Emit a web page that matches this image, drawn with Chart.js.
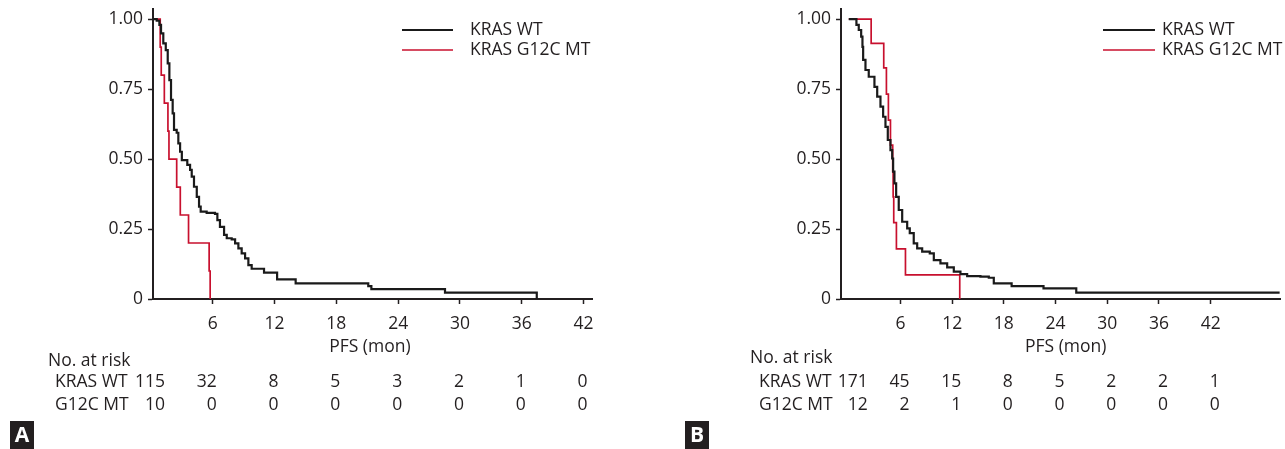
<!DOCTYPE html>
<html><head><meta charset="utf-8">
<script src="https://cdn.jsdelivr.net/npm/chart.js@4.4.1/dist/chart.umd.min.js"></script>
<style>
html,body{margin:0;padding:0;background:#fff;}
#wrap{position:relative;width:1285px;height:449px;overflow:hidden;background:#fff;}
canvas{position:absolute;top:0;}
#cA{left:0;} #cB{left:680px;}
</style></head><body>
<div id="wrap"><canvas id="cA" width="640" height="449"></canvas><canvas id="cB" width="605" height="449"></canvas></div>
<script>
// ---------- data ----------
const seriesNames = ['KRAS WT', 'KRAS G12C MT'];
const xTickValues = [6, 12, 18, 24, 30, 36, 42];
const yTickValues = [0, 0.25, 0.5, 0.75, 1];
const yTickLabels = ['0', '0.25', '0.50', '0.75', '1.00'];
const xAxisTitle = 'PFS (mon)';
const riskHeader = 'No. at risk';
const riskRowNames = ['KRAS WT', 'G12C MT'];
const riskTimes = [0, 6, 12, 18, 24, 30, 36, 42];
const riskA_WT = [115, 32, 8, 5, 3, 2, 1, 0];
const riskA_MT = [10, 0, 0, 0, 0, 0, 0, 0];
const riskB_WT = [171, 45, 15, 8, 5, 2, 2, 1];
const riskB_MT = [12, 2, 1, 0, 0, 0, 0, 0];

// Panel A Kaplan-Meier curves (time in months, survival probability)
const kmA_WT_t = [0, 0.56, 0.82, 0.98, 1.2, 1.44, 1.63, 1.79, 1.95, 2.11, 2.24, 2.5, 2.66, 2.83, 3.0, 3.53, 3.8, 3.96, 4.18, 4.45, 4.67, 4.83, 5.41, 6.22, 6.45, 6.7, 7.1, 7.36, 7.84, 8.17, 8.49, 8.81, 9.14, 9.46, 9.78, 10.98, 12.25, 14.05, 21.1, 21.4, 28.55, 37.46];
const kmA_WT_s = [1, 0.994, 0.979, 0.949, 0.913, 0.889, 0.842, 0.782, 0.711, 0.663, 0.604, 0.594, 0.556, 0.526, 0.496, 0.479, 0.461, 0.437, 0.401, 0.365, 0.33, 0.312, 0.308, 0.304, 0.282, 0.258, 0.229, 0.217, 0.213, 0.199, 0.181, 0.163, 0.145, 0.121, 0.108, 0.094, 0.07, 0.056, 0.046, 0.035, 0.023, 0];
const kmA_MT_t = [0, 0.9, 1.0, 1.3, 1.65, 1.75, 2.5, 2.85, 3.65, 5.65, 5.75];
const kmA_MT_s = [1, 0.9, 0.8, 0.7, 0.6, 0.5, 0.4, 0.3, 0.2, 0.1, 0];

// Panel B Kaplan-Meier curves
const kmB_WT_t = [0, 0.66, 0.89, 1.16, 1.44, 1.59, 1.67, 1.94, 2.32, 2.98, 3.3, 3.68, 3.99, 4.26, 4.53, 4.84, 5.04, 5.15, 5.3, 5.5, 5.8, 6.2, 6.78, 7.08, 7.54, 7.94, 8.52, 9.4, 9.87, 10.64, 11.42, 12.19, 12.96, 13.74, 15.28, 16.25, 16.83, 18.9, 22.6, 26.4, 50];
const kmB_WT_s = [1, 1, 0.979, 0.961, 0.937, 0.901, 0.854, 0.818, 0.794, 0.758, 0.723, 0.687, 0.651, 0.615, 0.568, 0.532, 0.502, 0.455, 0.413, 0.365, 0.318, 0.276, 0.252, 0.235, 0.199, 0.181, 0.169, 0.163, 0.139, 0.127, 0.113, 0.098, 0.089, 0.082, 0.08, 0.076, 0.056, 0.046, 0.038, 0.023, 0.023];
const kmB_MT_t = [0, 2.6, 4.06, 4.37, 4.6, 4.84, 5.1, 5.15, 5.22, 5.53, 6.58, 12.88];
const kmB_MT_s = [1, 0.913, 0.826, 0.732, 0.639, 0.55, 0.455, 0.365, 0.273, 0.179, 0.086, 0];

// ---------- styles ----------
const FONT_FAMILY = '"Open Sans", "Noto Sans", sans-serif';
const FONT_SIZE = 17.5;
const TEXT = '#231f20';
const AXIS = '#231f20';
const BLACK = '#1a1a1a';
const RED = '#c8102e';

function pts(t, s) { return t.map((v, i) => ({ x: v, y: s[i] })); }

function panelPlugin(cfg) {
  return {
    id: 'panel' + cfg.letter,
    afterDraw(chart) {
      const ctx = chart.ctx, xs = chart.scales.x, ca = chart.chartArea;
      ctx.save();
      ctx.font = FONT_SIZE + 'px ' + FONT_FAMILY;
      ctx.fillStyle = TEXT;
      ctx.textBaseline = 'middle';
      // axis title
      ctx.textAlign = 'center';
      ctx.fillText(xAxisTitle, (ca.left + ca.right) / 2 + cfg.titleDx, cfg.titleY);
      // legend
      chart.data.datasets.forEach((ds, i) => {
        const y = cfg.legY[i];
        ctx.strokeStyle = ds.borderColor;
        ctx.lineWidth = ds.borderWidth;
        ctx.beginPath(); ctx.moveTo(cfg.legX0, y); ctx.lineTo(cfg.legX1, y); ctx.stroke();
        ctx.textAlign = 'left';
        ctx.fillText(ds.label, cfg.legTextX, y);
      });
      // risk table
      ctx.textAlign = 'left';
      ctx.fillText(riskHeader, cfg.hdrX, cfg.hdrY);
      cfg.risk.forEach((row, r) => {
        ctx.textAlign = 'left';
        ctx.fillText(riskRowNames[r], cfg.rowX, cfg.rowY[r]);
        ctx.textAlign = 'right';
        row.forEach((v, i) => {
          const px = xs.getPixelForValue(riskTimes[i]) + (i === 0 ? cfg.col0Dx : cfg.colDx);
          ctx.fillText(String(v), px, cfg.rowY[r]);
        });
      });
      // panel letter box
      ctx.fillStyle = '#231f20';
      ctx.fillRect(cfg.boxX, cfg.boxY, cfg.boxW, cfg.boxH);
      ctx.fillStyle = '#ffffff';
      ctx.font = 'bold 21px ' + FONT_FAMILY;
      ctx.textAlign = 'center';
      ctx.fillText(cfg.letter, cfg.boxX + cfg.boxW / 2, cfg.boxY + cfg.boxH / 2 + 1);
      ctx.restore();
    }
  };
}

function makeChart(id, wt, mt, xmin, xmax, yWidth, padRight, plugin) {
  return new Chart(document.getElementById(id), {
    type: 'line',
    data: {
      datasets: [
        { label: seriesNames[0], data: wt, borderColor: BLACK, borderWidth: 2.2, stepped: true, pointRadius: 0, fill: false },
        { label: seriesNames[1], data: mt, borderColor: RED, borderWidth: 1.7, stepped: true, pointRadius: 0, fill: false }
      ]
    },
    options: {
      responsive: false, animation: false, devicePixelRatio: 1,
      layout: { padding: { left: 0, right: padRight, top: 9, bottom: 0 } },
      plugins: { legend: { display: false }, tooltip: { enabled: false } },
      scales: {
        x: {
          type: 'linear', min: xmin, max: xmax,
          afterBuildTicks: (s) => { s.ticks = xTickValues.map(v => ({ value: v })); },
          afterFit: (s) => { s.height = 150; s.paddingLeft = 0; s.paddingRight = 0; },
          ticks: { color: TEXT, font: { family: FONT_FAMILY, size: FONT_SIZE }, padding: 10, maxRotation: 0, autoSkip: false, callback: (v) => String(v) },
          grid: { display: true, drawOnChartArea: false, drawTicks: true, tickLength: 5, tickColor: AXIS, tickWidth: 1.5 },
          border: { display: true, color: AXIS, width: 2 }
        },
        y: {
          type: 'linear', min: 0, max: 1.036,
          afterBuildTicks: (s) => { s.ticks = yTickValues.map(v => ({ value: v })); },
          afterFit: (s) => { s.width = yWidth; s.paddingTop = 0; s.paddingBottom = 0; },
          ticks: { color: TEXT, font: { family: FONT_FAMILY, size: FONT_SIZE }, padding: 5, autoSkip: false, callback: (v) => yTickLabels[yTickValues.indexOf(v)] },
          grid: { display: true, drawOnChartArea: false, drawTicks: true, tickLength: 5, tickColor: AXIS, tickWidth: 1.5 },
          border: { display: true, color: AXIS, width: 2 }
        }
      }
    },
    plugins: [plugin]
  });
}

makeChart('cA', pts(kmA_WT_t, kmA_WT_s), pts(kmA_MT_t, kmA_MT_s), 0.2, 42.9, 153, 47.2,
  panelPlugin({
    letter: 'A', titleDx: -3, titleY: 347,
    legX0: 402, legX1: 453, legTextX: 470, legY: [30, 50],
    hdrX: 48, hdrY: 361, rowX: 55, rowY: [382, 405],
    risk: [riskA_WT, riskA_MT], col0Dx: 14, colDx: 4,
    boxX: 10, boxY: 421, boxW: 24, boxH: 28
  }));

makeChart('cB', pts(kmB_WT_t, kmB_WT_s), pts(kmB_MT_t, kmB_MT_s), -0.9, 50.1, 161, 4.5,
  panelPlugin({
    letter: 'B', titleDx: 5, titleY: 347,
    legX0: 423, legX1: 475, legTextX: 482, legY: [30, 50],
    hdrX: 70, hdrY: 358, rowX: 79, rowY: [382, 405],
    risk: [riskB_WT, riskB_MT], col0Dx: 19, colDx: 9,
    boxX: 5, boxY: 421, boxW: 24, boxH: 28
  }));
</script>
</body></html>
